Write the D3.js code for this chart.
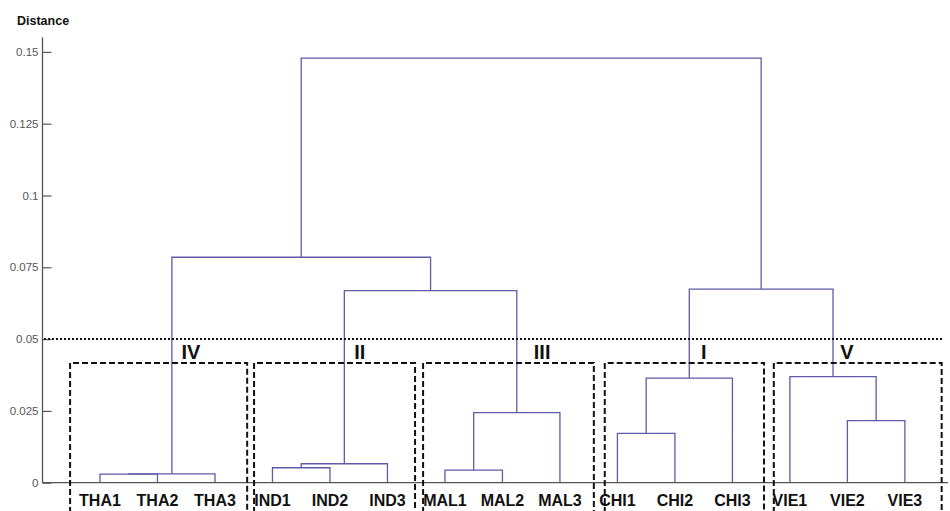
<!DOCTYPE html>
<html>
<head>
<meta charset="utf-8">
<title>Dendrogram</title>
<script src="https://d3js.org/d3.v7.min.js"></script>
<style>
  body { margin: 0; background: #fff; }
  svg { display: block; font-family: "Liberation Sans", Arial, sans-serif; }
</style>
</head>
<body>
<div id="chart"></div>
<script>
// leaves in plotted order
const leaves = ["THA1", "THA2", "THA3", "IND1", "IND2", "IND3", "MAL1", "MAL2", "MAL3",
                "CHI1", "CHI2", "CHI3", "VIE1", "VIE2", "VIE3"];

// linkage: [node a, node b, distance], new nodes numbered from leaves.length
const links = [
  [0, 1, 0.0030],
  [15, 2, 0.0031],
  [3, 4, 0.0052],
  [17, 5, 0.0066],
  [6, 7, 0.0044],
  [19, 8, 0.0244],
  [9, 10, 0.0172],
  [21, 11, 0.0364],
  [13, 14, 0.0216],
  [12, 23, 0.0369],
  [18, 20, 0.0669],
  [16, 25, 0.0785],
  [22, 24, 0.0674],
  [26, 27, 0.1478]
];

const yTicks = [0, 0.025, 0.05, 0.075, 0.1, 0.125, 0.15];
const cutoff = 0.05;

// cluster boxes: label, left/right edge in leaf units
const groups = ["IV", "II", "III", "I", "V"];
const groupFrom = [0.48, 3.68, 6.62, 9.78, 12.72];
const groupTo = [3.56, 6.48, 9.59, 12.55, 15.64];
const groupLabelAt = [2.58, 5.52, 8.69, 11.5, 13.99];
const boxTop = 0.0417;
const labelLevel = 0.0455;

const W = 950, H = 511;
const svg = d3.select("#chart").append("svg").attr("width", W).attr("height", H);

const x = d3.scaleLinear().domain([0, 15.75]).range([42.5, 948]);
const y = d3.scaleLinear().domain([0, 0.155]).range([482.7, 37.5]);

// positions of every node
const pos = leaves.map((d, i) => ({ x: i + 1, h: 0 }));
links.forEach(l => {
  const a = pos[l[0]], b = pos[l[1]];
  pos.push({ x: (a.x + b.x) / 2, h: l[2] });
});

const lineCol = "#5c5ca8";
const g = svg.append("g");
links.forEach(l => {
  const a = pos[l[0]], b = pos[l[1]];
  const p = d3.path();
  p.moveTo(x(a.x), y(a.h));
  p.lineTo(x(a.x), y(l[2]));
  p.lineTo(x(b.x), y(l[2]));
  p.lineTo(x(b.x), y(b.h));
  g.append("path").attr("d", p.toString())
    .attr("fill", "none").attr("stroke", lineCol).attr("stroke-width", 1.3);
});

// axes (matlab style, ticks inside)
const yAxis = d3.axisRight(y).tickValues(yTicks).tickSize(9).tickFormat(d => d3.format("")(+d.toFixed(3)));
const ya = svg.append("g").attr("transform", "translate(42.5,0)").call(yAxis);
ya.select(".domain").attr("stroke", "#555").attr("stroke-width", 1.3).attr("d", `M0,${y(0.155)}V${y(0)}`);
ya.selectAll(".tick line").attr("stroke", "#555").attr("stroke-width", 1.2);
ya.selectAll(".tick text").attr("x", -4).attr("text-anchor", "end")
  .attr("fill", "#555").attr("font-size", 11.5).attr("font-family", "Liberation Sans, Arial, sans-serif");

svg.append("line").attr("x1", 42.5).attr("x2", x(15.75)).attr("y1", y(0)).attr("y2", y(0))
  .attr("stroke", "#555").attr("stroke-width", 1.3);

// leaf labels
svg.append("g").selectAll("text").data(leaves).join("text")
  .attr("x", (d, i) => x(i + 1)).attr("y", 506)
  .attr("text-anchor", "middle").attr("font-size", 16).attr("font-weight", "bold")
  .attr("fill", "#111").text(d => d);

svg.append("text").attr("x", 17).attr("y", 25).attr("font-size", 12.5)
  .attr("font-weight", "bold").attr("fill", "#111").text("Distance");

// cutoff line
svg.append("line").attr("x1", 44).attr("x2", x(15.66)).attr("y1", y(cutoff)).attr("y2", y(cutoff))
  .attr("stroke", "#111").attr("stroke-width", 2).attr("stroke-dasharray", "2,2");

// dashed cluster boxes
groups.forEach((name, i) => {
  const x0 = x(groupFrom[i]), x1 = x(groupTo[i]), t = y(boxTop);
  svg.append("path").attr("d", `M${x0},${H + 2}V${t}H${x1}V${H + 2}`)
    .attr("fill", "none").attr("stroke", "#111").attr("stroke-width", 2)
    .attr("stroke-dasharray", "6,3");
  svg.append("text").attr("x", x(groupLabelAt[i])).attr("y", y(labelLevel) + 7)
    .attr("text-anchor", "middle").attr("font-size", 20).attr("font-weight", "bold")
    .attr("fill", "#111").text(name);
});
</script>
</body>
</html>
